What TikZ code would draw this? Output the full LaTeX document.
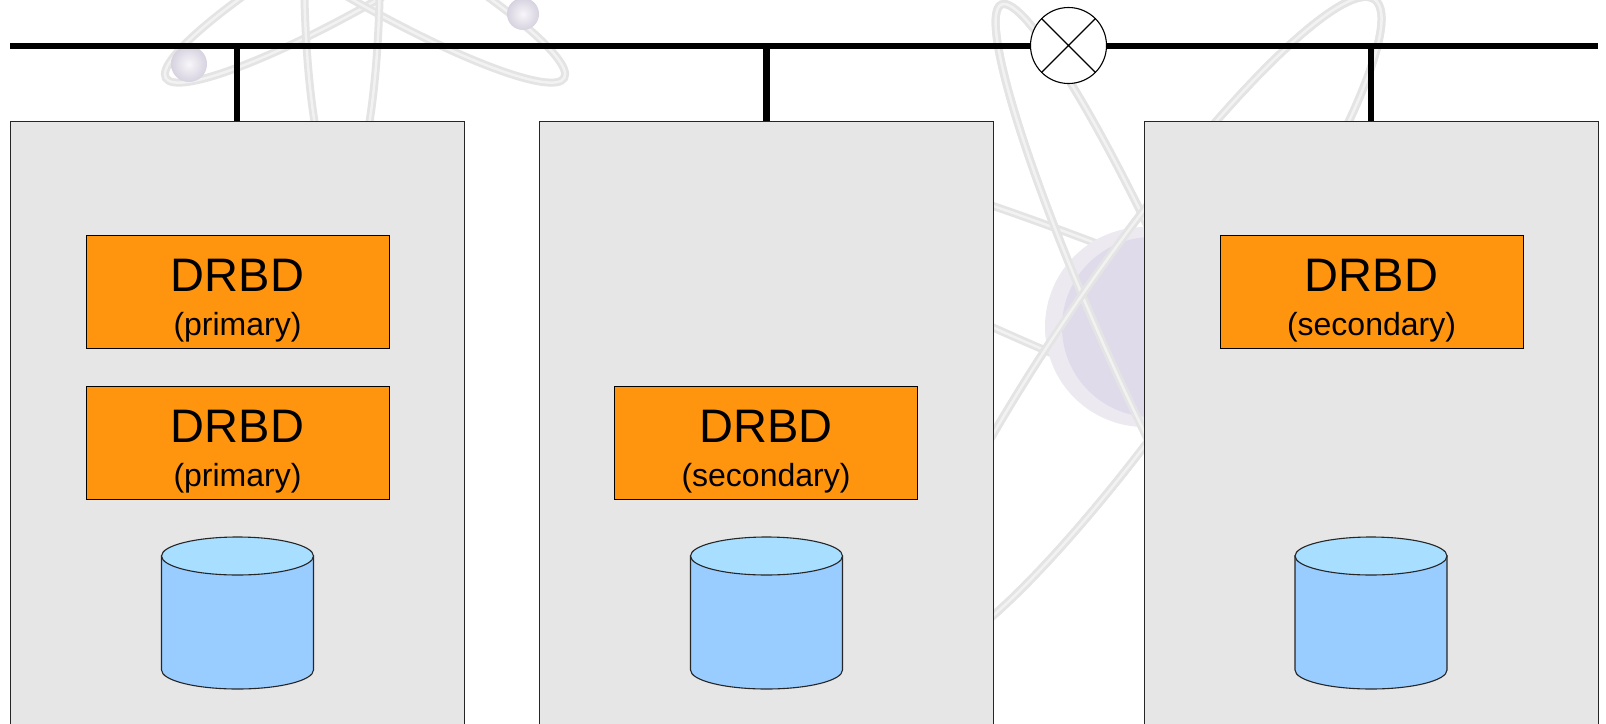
\documentclass[tikz,border=0pt]{standalone}
\usepackage{fontspec}
\setmainfont{Liberation Sans}
\definecolor{serverfill}{HTML}{E6E6E6}
\definecolor{drbdfill}{HTML}{FF950E}
\definecolor{disktop}{HTML}{A8DEFF}
\definecolor{diskside}{HTML}{99CCFF}
\definecolor{orbitgray}{HTML}{E4E4E4}
\definecolor{orbitshine}{HTML}{F2F2F2}
\definecolor{atomdark}{HTML}{E0DBEA}
\definecolor{atomlight}{HTML}{ECE9F1}
\begin{document}
\begin{tikzpicture}[x=1pt,y=-1pt,
  server/.style={draw=black!85, line width=1pt, fill=serverfill, rectangle,
    inner sep=0pt, outer sep=0pt, minimum width=454pt, minimum height=640pt, anchor=north},
  drbdbox/.style={draw=black, line width=1pt, fill=drbdfill, rectangle,
    inner sep=0pt, outer sep=0pt, minimum width=303pt, minimum height=113pt},
  title/.style={font=\fontsize{47}{50}\selectfont, inner sep=0pt, anchor=base},
  role/.style={font=\fontsize{32}{36}\selectfont, inner sep=0pt, anchor=base},
  busline/.style={line width=6.5pt, line cap=butt},
  switchnode/.style={draw, circle, fill=white, line width=1.1pt, minimum size=76pt, inner sep=0pt, outer sep=0pt},
  orbit/.style={draw=orbitgray, line width=8pt},
  orbithi/.style={draw=orbitshine, line width=2.5pt},
  electron/.style={inner color=white!60!atomlight, outer color=atomdark!90!gray},
  disk/.pic={
    \filldraw[fill=diskside, draw=black!85, line width=1.1pt]
      (-76,0) -- (-76,114)
      .. controls (-76,124.49) and (-41.97,133) .. (0,133)
      .. controls (41.97,133) and (76,124.49) .. (76,114)
      -- (76,0) -- cycle;
    \filldraw[fill=disktop, draw=black!85, line width=1.1pt]
      (0,0) ellipse[x radius=76, y radius=19];
  }
]
\useasboundingbox (0,0) rectangle (1606,723);
\clip (0,0) rectangle (1606,723);
\fill[white] (0,0) rectangle (1606,723);

% faint atom logo in the background
\begin{scope}
  \foreach \ang/\cx in {30/365, -30/365, 90/342} {
    \draw[orbit, rotate around={\ang:(\cx,-37)}] (\cx,-37) ellipse[x radius=230, y radius=38];
    \draw[orbithi, rotate around={\ang:(\cx,-37)}] (\cx,-37) ellipse[x radius=230, y radius=38];
  }
  \shade[electron] (189,64) circle[radius=18];
  \shade[electron] (523,14) circle[radius=16];
  \foreach \ang/\ra/\rb in {114/353/45, -22/480/60, 55/400/70} {
    \draw[orbit, rotate around={\ang:(1145,327)}] (1145,327) ellipse[x radius=\ra, y radius=\rb];
    \draw[orbithi, rotate around={\ang:(1145,327)}] (1145,327) ellipse[x radius=\ra, y radius=\rb];
  }
  \fill[atomlight] (1145,327) circle[radius=100];
  \fill[atomdark] (1152,327) circle[radius=90];
  \foreach \ang/\ra/\rb in {114/353/45, 55/400/70} {
    \draw[orbit, rotate around={\ang:(1145,327)}] (1145,327) ellipse[x radius=\ra, y radius=\rb];
    \draw[orbithi, rotate around={\ang:(1145,327)}] (1145,327) ellipse[x radius=\ra, y radius=\rb];
  }
\end{scope}

% servers
\node[server] (s1) at (237,121) {};
\node[server] (s2) at (766.5,121) {};
\node[server] (s3) at (1371,121) {};

% network bus with the switch
\coordinate (busL) at (10,46);
\coordinate (busR) at (1598,46);
\coordinate (t1) at (237,46);
\coordinate (t2) at (766.5,46);
\coordinate (t3) at (1371,46);
\draw[busline] (busL) -- (busR);
\draw[busline] (t1) -- (s1.north);
\draw[busline] (t2) -- (s2.north);
\draw[busline] (t3) -- (s3.north);
\node[switchnode] (sw) at (1068.5,45.5) {};
\draw[line width=1.1pt] (sw.45) -- (sw.225) (sw.135) -- (sw.315);

% DRBD devices
\node[drbdbox] (p1) at (237.5,291.5) {};
\node[title] (p1a) at ([yshift=-56pt]p1.north) {DRBD};
\node[role] (p1b) at ([yshift=-100pt]p1.north) {(primary)};

\node[drbdbox] (p2) at (237.5,443) {};
\node[title] (p2a) at ([yshift=-56pt]p2.north) {DRBD};
\node[role] (p2b) at ([yshift=-100pt]p2.north) {(primary)};

\node[drbdbox] (p3) at (766,443) {};
\node[title] (p3a) at ([yshift=-56pt]p3.north) {DRBD};
\node[role] (p3b) at ([yshift=-100pt]p3.north) {(secondary)};

\node[drbdbox] (p4) at (1371.5,291.5) {};
\node[title] (p4a) at ([yshift=-56pt]p4.north) {DRBD};
\node[role] (p4b) at ([yshift=-100pt]p4.north) {(secondary)};

% disks
\pic at (237.5,556) {disk};
\pic at (766.5,556) {disk};
\pic at (1371,556) {disk};
\end{tikzpicture}
\end{document}
